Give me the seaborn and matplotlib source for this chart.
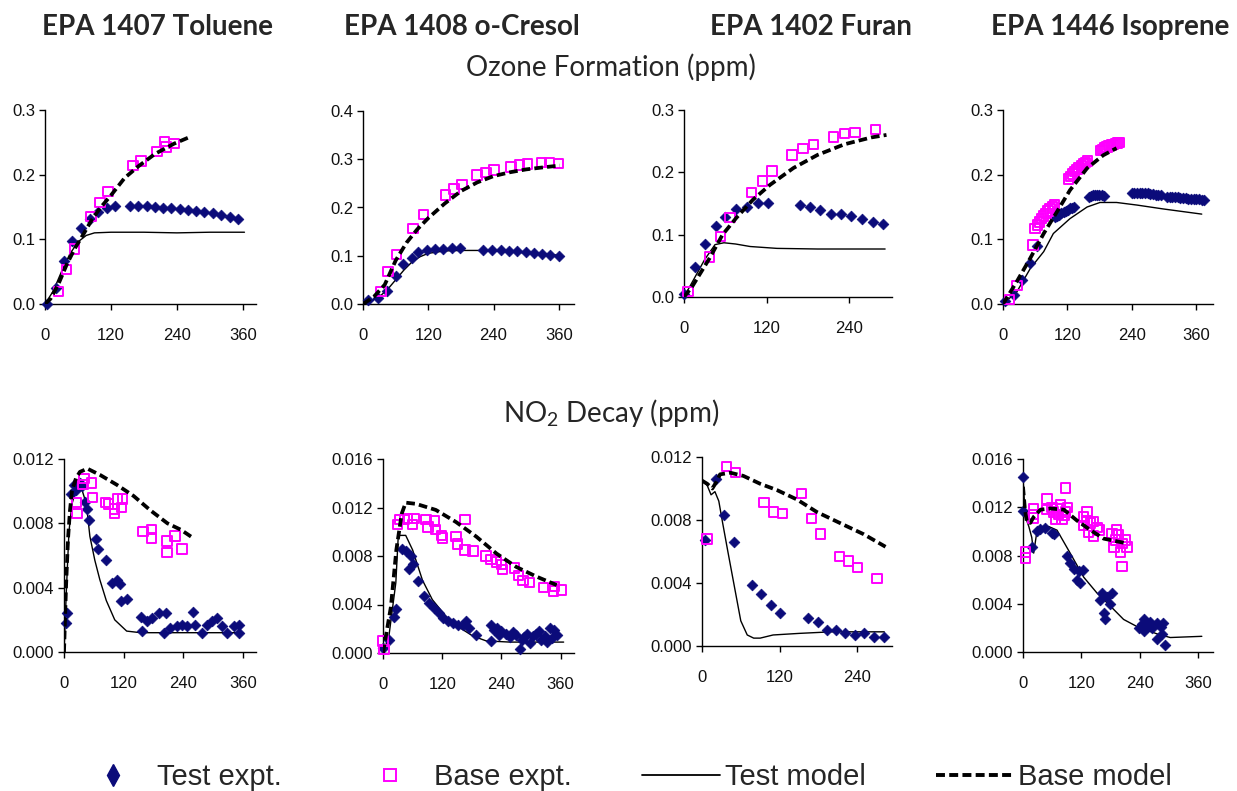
import matplotlib
matplotlib.use("Agg")
import matplotlib.pyplot as plt
import seaborn as sns
from matplotlib.lines import Line2D
from matplotlib.ticker import FixedLocator, FuncFormatter

# ---------------- DATA ----------------
compounds = ["EPA 1407 Toluene", "EPA 1408 o-Cresol", "EPA 1402 Furan", "EPA 1446 Isoprene"]
row_titles = ["Ozone Formation (ppm)", "NO$_2$ Decay (ppm)"]
legend_labels = ["Test expt.", "Base expt.", "Test model", "Base model"]

# Toluene O3
tol_o3_test_t = [4, 20, 35, 50, 66, 81, 97, 112, 127, 155, 170, 185, 200, 215, 230, 245, 260, 275, 290, 305, 320, 336, 352]
tol_o3_test_y = [0.0, 0.024, 0.067, 0.097, 0.117, 0.132, 0.142, 0.148, 0.151, 0.152, 0.152, 0.151, 0.150, 0.149, 0.148,
                 0.147, 0.146, 0.144, 0.142, 0.140, 0.138, 0.135, 0.132]
tol_o3_base_t = [25, 39, 54, 84, 100, 115, 160, 175, 204, 218, 220, 235]
tol_o3_base_y = [0.019, 0.053, 0.085, 0.135, 0.157, 0.174, 0.214, 0.221, 0.236, 0.251, 0.243, 0.248]
tol_o3_tmod_t = [0, 15, 30, 45, 60, 75, 90, 120, 180, 240, 300, 363]
tol_o3_tmod_y = [0, 0.02, 0.05, 0.077, 0.096, 0.106, 0.110, 0.111, 0.111, 0.110, 0.111, 0.111]
tol_o3_bmod_t = [0, 10, 25, 40, 55, 70, 85, 100, 120, 145, 170, 200, 235, 260]
tol_o3_bmod_y = [0, 0.008, 0.032, 0.062, 0.087, 0.108, 0.13, 0.148, 0.168, 0.195, 0.213, 0.232, 0.248, 0.257]

# o-Cresol O3
cre_o3_test_t = [9, 28, 45, 60, 74, 90, 102, 117, 132, 148, 164, 179, 220, 237, 254, 269, 283, 299, 314, 330, 344, 360]
cre_o3_test_y = [0.009, 0.012, 0.026, 0.058, 0.083, 0.095, 0.107, 0.112, 0.114, 0.114, 0.116, 0.116, 0.112, 0.112,
                 0.111, 0.109, 0.109, 0.107, 0.105, 0.104, 0.102, 0.100]
cre_o3_base_t = [33, 46, 62, 92, 111, 152, 167, 182, 210, 226, 241, 272, 288, 303, 328, 343, 359]
cre_o3_base_y = [0.026, 0.067, 0.102, 0.156, 0.185, 0.226, 0.238, 0.248, 0.267, 0.273, 0.278, 0.284, 0.288, 0.290,
                 0.293, 0.293, 0.291]
cre_o3_tmod_t = [0, 15, 30, 45, 60, 75, 90, 105, 120, 150, 180, 210, 240, 270, 300, 330, 360]
cre_o3_tmod_y = [0, 0.006, 0.015, 0.03, 0.05, 0.07, 0.087, 0.098, 0.105, 0.110, 0.111, 0.111, 0.110, 0.108, 0.106,
                 0.104, 0.101]
cre_o3_bmod_t = [0, 20, 40, 60, 80, 100, 120, 150, 180, 210, 240, 270, 300, 330, 362]
cre_o3_bmod_y = [0, 0.015, 0.04, 0.09, 0.127, 0.155, 0.178, 0.208, 0.234, 0.252, 0.265, 0.273, 0.279, 0.283, 0.287]

# Furan O3
fur_o3_test_t = [0, 16, 31, 46, 60, 75, 91, 107, 122, 168, 183, 198, 213, 228, 243, 258, 274, 289]
fur_o3_test_y = [0.005, 0.048, 0.085, 0.114, 0.128, 0.141, 0.144, 0.151, 0.151, 0.147, 0.145, 0.140, 0.133, 0.133,
                 0.130, 0.125, 0.120, 0.117]
fur_o3_base_t = [6, 37, 53, 67, 98, 114, 128, 157, 173, 188, 217, 233, 248, 278]
fur_o3_base_y = [0.009, 0.064, 0.097, 0.128, 0.168, 0.186, 0.202, 0.228, 0.238, 0.245, 0.257, 0.262, 0.264, 0.269]
fur_o3_tmod_t = [0, 15, 30, 45, 58, 75, 96, 135, 194, 292]
fur_o3_tmod_y = [0, 0.03, 0.06, 0.084, 0.087, 0.085, 0.081, 0.078, 0.077, 0.077]
fur_o3_bmod_t = [0, 12, 37, 56, 76, 100, 125, 159, 194, 233, 272, 294]
fur_o3_bmod_y = [0, 0.017, 0.062, 0.1, 0.127, 0.156, 0.18, 0.207, 0.228, 0.245, 0.256, 0.26]

# Isoprene O3
iso_o3_test_t = [4, 20, 35, 51, 63,
                 97, 101, 105, 109, 113, 117, 121, 125, 129, 132,
                 160, 164, 168, 172, 176, 180, 184, 188,
                 240, 245, 250, 255, 260, 265, 270, 275, 280, 285, 290, 295,
                 306, 311, 316, 321, 326, 331, 336, 341, 346, 351, 356, 361, 366, 371, 375]
iso_o3_test_y = [0.004, 0.014, 0.037, 0.063, 0.089,
                 0.134, 0.136, 0.138, 0.140, 0.142, 0.144, 0.146, 0.148, 0.149, 0.150,
                 0.165, 0.167, 0.168, 0.169, 0.169, 0.169, 0.168, 0.167,
                 0.171, 0.172, 0.172, 0.172, 0.171, 0.171, 0.171, 0.170, 0.170, 0.169, 0.169, 0.168,
                 0.166, 0.166, 0.165, 0.165, 0.165, 0.164, 0.164, 0.164, 0.163, 0.163, 0.162, 0.162, 0.162,
                 0.161, 0.161]
iso_o3_base_t = [12, 26, 56,
                 60, 64, 68, 72, 76, 80, 84, 88, 92, 96,
                 122, 126, 130, 134, 138, 142, 146, 150, 154, 158,
                 182, 186, 190, 194, 198, 202, 206, 210, 214, 218]
iso_o3_base_y = [0.007, 0.029, 0.091,
                 0.117, 0.122, 0.127, 0.132, 0.136, 0.140, 0.144, 0.148, 0.151, 0.154,
                 0.193, 0.197, 0.201, 0.205, 0.208, 0.211, 0.214, 0.217, 0.219, 0.221,
                 0.237, 0.239, 0.241, 0.243, 0.245, 0.246, 0.247, 0.248, 0.249, 0.250]
iso_o3_tmod_t = [0, 26, 51, 76, 94, 125, 157, 181, 212, 250, 299, 371]
iso_o3_tmod_y = [0, 0.019, 0.055, 0.081, 0.109, 0.132, 0.150, 0.157, 0.157, 0.153, 0.147, 0.139]
iso_o3_bmod_t = [0, 26, 51, 76, 101, 125, 157, 187, 212]
iso_o3_bmod_y = [0, 0.035, 0.071, 0.109, 0.143, 0.176, 0.210, 0.230, 0.241]

# Toluene NO2
tol_no2_test_t = [5, 7, 15, 20, 25, 32, 37, 42, 46, 50, 65, 69, 84, 96, 106, 112, 114, 127, 155, 156, 166, 176, 190,
                  205, 202, 213, 227, 237, 247, 260, 264, 277, 287, 297, 308, 318, 328, 341, 351, 351]
tol_no2_test_y = [0.0018, 0.0024, 0.0098, 0.0104, 0.0101, 0.0105, 0.0103, 0.0093, 0.0089, 0.0082, 0.0070, 0.0064,
                  0.0057, 0.0043, 0.0045, 0.0042, 0.0032, 0.0033, 0.0022, 0.0013, 0.0019, 0.0021, 0.0024, 0.0024,
                  0.0012, 0.0015, 0.0016, 0.0017, 0.0016, 0.0025, 0.0017, 0.0012, 0.0017, 0.0019, 0.0021, 0.0016,
                  0.0012, 0.0016, 0.0017, 0.0012]
tol_no2_base_t = [25, 26, 40, 38, 55, 57, 84, 89, 101, 102, 107, 118, 116, 159, 176, 176, 207, 207, 223, 237]
tol_no2_base_y = [0.0093, 0.0086, 0.0108, 0.0104, 0.0105, 0.0096, 0.0093, 0.0092, 0.0089, 0.0086, 0.0095, 0.0095,
                  0.0090, 0.0075, 0.0076, 0.0071, 0.0069, 0.0062, 0.0072, 0.0064]
tol_no2_tmod_t = [0, 5, 10, 16, 25, 35, 45, 52, 62, 72, 85, 102, 126, 154, 200, 260, 360]
tol_no2_tmod_y = [0, 0.004, 0.0075, 0.0092, 0.0102, 0.0102, 0.0092, 0.0072, 0.0057, 0.0045, 0.0032, 0.0020, 0.0013,
                  0.0012, 0.0012, 0.0012, 0.0012]
tol_no2_bmod_t = [0, 4, 8, 12, 16, 24, 32, 47, 73, 106, 140, 174, 208, 235, 259]
tol_no2_bmod_y = [0, 0.004, 0.007, 0.0088, 0.0100, 0.0108, 0.0112, 0.0114, 0.0110, 0.0104, 0.0097, 0.0088, 0.0080,
                  0.0076, 0.0071]

# o-Cresol NO2
cre_no2_test_t = [0, 12, 22, 27, 39, 46, 53, 56, 60, 70, 84, 94, 104, 114, 121, 131, 141, 151, 162, 168, 175, 189,
                  219, 219, 225, 230, 235, 240, 250, 258, 264, 270, 277, 281, 286, 291, 297, 303, 311, 316, 321, 328,
                  333, 338, 342, 347, 352]
cre_no2_test_y = [0.0004, 0.0011, 0.0030, 0.0036, 0.0086, 0.0084, 0.0069, 0.0080, 0.0073, 0.0059, 0.0047, 0.0041,
                  0.0037, 0.0033, 0.0029, 0.0026, 0.0025, 0.0023, 0.0023, 0.0026, 0.0021, 0.0015, 0.0010, 0.0023,
                  0.0019, 0.0021, 0.0015, 0.0018, 0.0016, 0.0013, 0.0017, 0.0015, 0.0003, 0.0011, 0.0013, 0.0016,
                  0.0008, 0.0014, 0.0016, 0.0018, 0.0011, 0.0014, 0.0009, 0.0021, 0.0012, 0.0019, 0.0015]
cre_no2_base_t = [0, 2, 29, 33, 43, 50, 60, 63, 87, 91, 104, 106, 118, 121, 148, 151, 166, 166, 182, 209, 219, 230,
                  240, 242, 267, 274, 284, 297, 325, 345, 348, 362]
cre_no2_base_y = [0.0010, 0.0003, 0.0106, 0.0110, 0.0110, 0.0111, 0.0106, 0.0111, 0.0110, 0.0104, 0.0109, 0.0102,
                  0.0097, 0.0095, 0.0096, 0.0090, 0.0110, 0.0085, 0.0084, 0.0080, 0.0077, 0.0075, 0.0073, 0.0069,
                  0.0070, 0.0064, 0.0060, 0.0058, 0.0054, 0.0051, 0.0055, 0.0052]
cre_no2_tmod_t = [0, 12, 26, 31, 46, 60, 80, 100, 128, 155, 182, 209, 257, 366]
cre_no2_tmod_y = [0, 0.0014, 0.0058, 0.0097, 0.0097, 0.0085, 0.0060, 0.0044, 0.0030, 0.0021, 0.0014, 0.0010, 0.0009,
                  0.0009]
cre_no2_bmod_t = [0, 16, 27, 38, 46, 67, 107, 148, 189, 230, 270, 311, 352]
cre_no2_bmod_y = [0, 0.0038, 0.0085, 0.0115, 0.0124, 0.0123, 0.0118, 0.0108, 0.0096, 0.0082, 0.0071, 0.0063, 0.0056]

# Furan NO2
fur_no2_test_t = [4, 21, 34, 49, 77, 91, 107, 121, 164, 179, 193, 208, 222, 237, 251, 266, 281]
fur_no2_test_y = [0.0067, 0.0106, 0.0083, 0.0066, 0.0039, 0.0033, 0.0026, 0.0021, 0.0018, 0.0015, 0.0010, 0.0010,
                  0.0008, 0.0007, 0.0008, 0.0006, 0.0006]
fur_no2_base_t = [8, 38, 52, 96, 111, 125, 154, 169, 183, 213, 227, 241, 271]
fur_no2_base_y = [0.0068, 0.0114, 0.0110, 0.0091, 0.0085, 0.0084, 0.0097, 0.0081, 0.0071, 0.0057, 0.0054, 0.0050,
                  0.0043]
fur_no2_tmod_t = [0, 8, 14, 20, 26, 32, 40, 50, 60, 70, 80, 90, 110, 150, 200, 250, 282]
fur_no2_tmod_y = [0.0105, 0.0102, 0.0096, 0.0098, 0.0092, 0.0078, 0.0060, 0.0038, 0.0016, 0.0007, 0.0005, 0.0005,
                  0.0007, 0.0008, 0.0009, 0.0009, 0.0009]
fur_no2_bmod_t = [0, 8, 16, 22, 28, 44, 64, 90, 116, 147, 178, 219, 250, 284]
fur_no2_bmod_y = [0.0105, 0.0103, 0.0100, 0.0104, 0.0109, 0.0110, 0.0108, 0.0103, 0.0099, 0.0093, 0.0085, 0.0077,
                  0.0071, 0.0063]

# Isoprene NO2
iso_no2_test_t = [0, 0, 19, 29, 34, 46, 60, 64, 91, 97, 104, 111, 115, 118, 123, 159, 163, 166, 169, 173, 180, 183,
                  238, 244, 248, 248, 255, 262, 265, 276, 276, 283, 286, 289, 293]
iso_no2_test_y = [0.0145, 0.0117, 0.0087, 0.0100, 0.0102, 0.0103, 0.0099, 0.0098, 0.0080, 0.0074, 0.0069, 0.0060,
                  0.0067, 0.0057, 0.0068, 0.0043, 0.0049, 0.0032, 0.0027, 0.0046, 0.0040, 0.0049,
                  0.0020, 0.0023, 0.0027, 0.0017, 0.0021, 0.0025, 0.0020, 0.0024, 0.0011, 0.0021, 0.0015, 0.0024,
                  0.0006]
iso_no2_base_t = [5, 5, 21, 22, 22, 49, 49, 88,
                  60, 63, 67, 70, 73, 77, 80, 84, 87, 91,
                  125, 125, 132, 132, 135, 139, 145, 145, 152, 156,
                  183, 187, 190, 193, 197, 201, 204, 204, 211, 214]
iso_no2_base_y = [0.0083, 0.0078, 0.0111, 0.0119, 0.0114, 0.0127, 0.0118, 0.0136,
                  0.0120, 0.0116, 0.0110, 0.0119, 0.0114, 0.0122, 0.0110, 0.0113, 0.0116, 0.0120,
                  0.0112, 0.0105, 0.0109, 0.0116, 0.0099, 0.0107, 0.0108, 0.0096, 0.0103, 0.0101,
                  0.0098, 0.0087, 0.0093, 0.0101, 0.0097, 0.0083, 0.0090, 0.0071, 0.0093, 0.0087]
iso_no2_tmod_t = [0, 1, 5, 12, 18, 22, 29, 53, 70, 97, 125, 152, 180, 207, 235, 276, 303, 368]
iso_no2_tmod_y = [0.0145, 0.0137, 0.0112, 0.0104, 0.0095, 0.0082, 0.0101, 0.0104, 0.0101, 0.0082, 0.0062, 0.0049,
                  0.0038, 0.0027, 0.0021, 0.0015, 0.0012, 0.0013]
iso_no2_bmod_t = [0, 4, 8, 15, 22, 36, 56, 84, 111, 139, 166, 214]
iso_no2_bmod_y = [0.0137, 0.0118, 0.0108, 0.0107, 0.0112, 0.0118, 0.0119, 0.0118, 0.0109, 0.0101, 0.0094, 0.0090]

o3_ticks_03 = [0.0, 0.1, 0.2, 0.3]
o3_ticks_04 = [0.0, 0.1, 0.2, 0.3, 0.4]
no2_ticks_012 = [0.000, 0.004, 0.008, 0.012]
no2_ticks_016 = [0.000, 0.004, 0.008, 0.012, 0.016]
time_ticks_360 = [0, 120, 240, 360]
time_ticks_240 = [0, 120, 240]

panel_data = [
    (tol_o3_test_t, tol_o3_test_y, tol_o3_base_t, tol_o3_base_y, tol_o3_tmod_t, tol_o3_tmod_y, tol_o3_bmod_t, tol_o3_bmod_y),
    (cre_o3_test_t, cre_o3_test_y, cre_o3_base_t, cre_o3_base_y, cre_o3_tmod_t, cre_o3_tmod_y, cre_o3_bmod_t, cre_o3_bmod_y),
    (fur_o3_test_t, fur_o3_test_y, fur_o3_base_t, fur_o3_base_y, fur_o3_tmod_t, fur_o3_tmod_y, fur_o3_bmod_t, fur_o3_bmod_y),
    (iso_o3_test_t, iso_o3_test_y, iso_o3_base_t, iso_o3_base_y, iso_o3_tmod_t, iso_o3_tmod_y, iso_o3_bmod_t, iso_o3_bmod_y),
    (tol_no2_test_t, tol_no2_test_y, tol_no2_base_t, tol_no2_base_y, tol_no2_tmod_t, tol_no2_tmod_y, tol_no2_bmod_t, tol_no2_bmod_y),
    (cre_no2_test_t, cre_no2_test_y, cre_no2_base_t, cre_no2_base_y, cre_no2_tmod_t, cre_no2_tmod_y, cre_no2_bmod_t, cre_no2_bmod_y),
    (fur_no2_test_t, fur_no2_test_y, fur_no2_base_t, fur_no2_base_y, fur_no2_tmod_t, fur_no2_tmod_y, fur_no2_bmod_t, fur_no2_bmod_y),
    (iso_no2_test_t, iso_no2_test_y, iso_no2_base_t, iso_no2_base_y, iso_no2_tmod_t, iso_no2_tmod_y, iso_no2_bmod_t, iso_no2_bmod_y),
]

# ---------------- LAYOUT / STYLE ----------------
W, H = 1237, 791
# (x_left, x_right, y_top, y_bottom) in pixels, x max, y max, y ticks, x ticks, decimals
layout = [
    ((45, 256, 110, 304), 384, 0.3, o3_ticks_03, time_ticks_360, 1),
    ((363, 574, 111, 304), 388, 0.4, o3_ticks_04, time_ticks_360, 1),
    ((684, 892, 110, 297), 302, 0.3, o3_ticks_03, time_ticks_240, 1),
    ((1003, 1213, 110, 304), 392, 0.3, o3_ticks_03, time_ticks_360, 1),
    ((64, 256, 459, 652), 386, 0.012, no2_ticks_012, time_ticks_360, 3),
    ((383, 574, 459, 653), 387, 0.016, no2_ticks_016, time_ticks_360, 3),
    ((702, 892, 457, 646), 294, 0.012, no2_ticks_012, time_ticks_240, 3),
    ((1023, 1213, 459, 652), 391, 0.016, no2_ticks_016, time_ticks_360, 3),
]

NAVY = "#0b0b7a"
MAGENTA = "#ff00ff"
DASH = (0, (2.3, 1.1))

sns.set_theme(style="ticks")
plt.rcParams['font.family'] = ['Liberation Sans', 'DejaVu Sans']
plt.rcParams['mathtext.fontset'] = 'custom'
plt.rcParams['mathtext.rm'] = 'Lato'
plt.rcParams['mathtext.it'] = 'Lato'

fig = plt.figure(figsize=(W / 100, H / 100), dpi=100)

for (box, xmax, ymax, yt, xt, dec), data in zip(layout, panel_data):
    x0, x1, yt_px, yb_px = box
    ax = fig.add_axes([x0 / W, 1 - yb_px / H, (x1 - x0) / W, (yb_px - yt_px) / H])
    tt, ty, bt, by, tmt, tmy, bmt, bmy = data
    sns.lineplot(x=tmt, y=tmy, ax=ax, color="black", lw=1.0, estimator=None, sort=False, zorder=2)
    sns.scatterplot(x=tt, y=ty, ax=ax, marker="D", s=30, color=NAVY, edgecolor=NAVY, linewidth=0.5,
                    zorder=3, clip_on=False)
    sns.scatterplot(x=bt, y=by, ax=ax, marker="s", s=46, facecolor="none", edgecolor=MAGENTA,
                    linewidth=1.4, zorder=4, clip_on=False)
    ax.collections[-1].set_facecolor("none")
    sns.lineplot(x=bmt, y=bmy, ax=ax, color="black", lw=2.7, estimator=None, sort=False, zorder=5,
                 linestyle=DASH)
    ax.set_xlim(0, xmax)
    ax.set_ylim(0, ymax)
    ax.yaxis.set_major_locator(FixedLocator(yt))
    ax.xaxis.set_major_locator(FixedLocator(xt))
    ax.yaxis.set_major_formatter(FuncFormatter(lambda v, p, d=dec: f"{v:.{d}f}"))
    ax.xaxis.set_major_formatter(FuncFormatter(lambda v, p: f"{v:.0f}"))
    for side in ("top", "right"):
        ax.spines[side].set_visible(False)
    for side in ("left", "bottom"):
        ax.spines[side].set_color("black")
        ax.spines[side].set_linewidth(1.0)
    ax.tick_params(axis="both", direction="out", length=4, width=1, color="black", labelsize=12,
                   labelcolor="#111111")
    ax.tick_params(axis="x", pad=13)
    ax.tick_params(axis="y", pad=3)
    ax.set_xlabel("")
    ax.set_ylabel("")

# titles
title_x = [157, 462, 811, 1110]
for name, xc in zip(compounds, title_x):
    fig.text(xc / W, 1 - 27 / H, name, ha="center", va="center", fontsize=20, fontweight="bold",
             family=["Lato", "DejaVu Sans"])
fig.text(611 / W, 1 - 67 / H, row_titles[0], ha="center", va="center", fontsize=20, family=["Lato", "DejaVu Sans"])
fig.text(611 / W, 1 - 413 / H, row_titles[1], ha="center", va="center", fontsize=20, family=["Lato", "DejaVu Sans"])

# legend
handles = [
    Line2D([], [], marker="d", ls="none", color=NAVY, markersize=11),
    Line2D([], [], marker="s", ls="none", markerfacecolor="none", markeredgecolor=MAGENTA, markeredgewidth=1.4,
           markersize=9),
    Line2D([], [], color="black", lw=1.3),
    Line2D([], [], color="black", lw=2.8, linestyle=DASH),
]
fig.legend(handles, legend_labels, loc="center", bbox_to_anchor=(623 / W, 1 - 777 / H), ncol=4, frameon=False,
           prop={"family": "Liberation Sans", "size": 21}, handlelength=2.67, handletextpad=0.17,
           columnspacing=2.4, borderpad=0)

fig.savefig("out.png", dpi=100, facecolor="white")
